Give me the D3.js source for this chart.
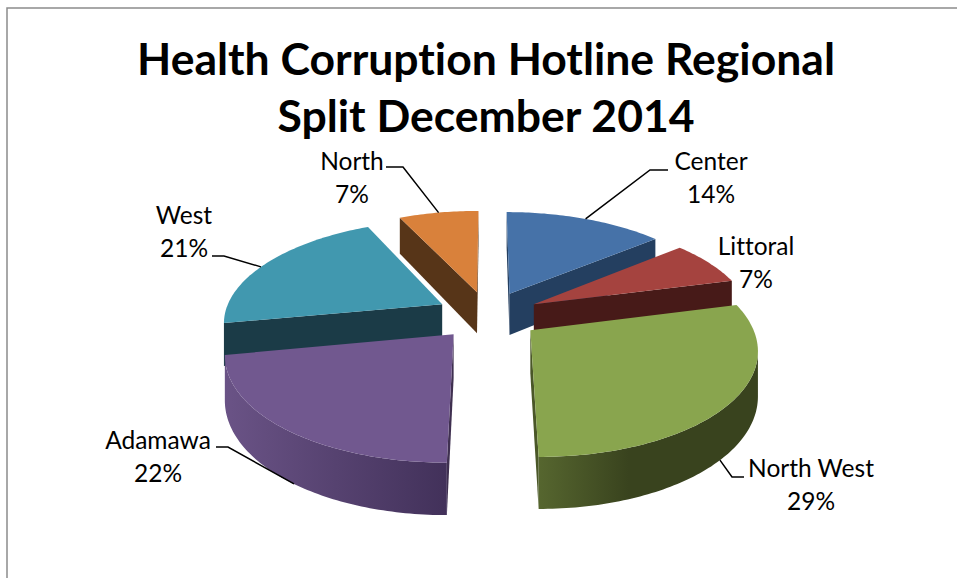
<!DOCTYPE html>
<html>
<head>
<meta charset="utf-8">
<script src="https://cdn.jsdelivr.net/npm/d3@7"></script>
<style>
    html, body { margin: 0; padding: 0; background: #fff; }
    svg { display: block; }
    text { font-family: Lato, "Open Sans", sans-serif; fill: #000; font-variant-ligatures: none; }
</style>
</head>
<body>
<div id="pie_dataviz"></div>
<script>
// chart data
const regions = ["Center", "Littoral", "North West", "Adamawa", "West", "North"];
const shares = [14, 7, 29, 22, 21, 7];
const titleLines = ["Health Corruption Hotline Regional", "Split December 2014"];

// slice colours
const topColors = ["#4672a8", "#a5433f", "#89a54e", "#71588f", "#4198af", "#d9813b"];
const sideColors = ["#243f60", "#471a18", "#4a5728", "#3f3050", "#1b3b47", "#573518"];
const wallStart = ["#243f60", "#471a18", "#56662f", "#6a5386", "#1b3b47", "#573518"];
const wallEnd = ["#243f60", "#471a18", "#39431e", "#42315a", "#1b3b47", "#573518"];

// label placement, same order as regions. elbow is where the leader line bends, null = no leader
// shift moves the leader's start along the rim, in degrees
const labelPos = [
    { x: 711, y: 170, elbow: [650, 170], end: [668, 170], shift: 0 },
    { x: 756, y: 255, elbow: null },
    { x: 811, y: 477, elbow: [732, 477], end: [744, 477], shift: 5 },
    { x: 158, y: 449, elbow: [228, 447], end: [216, 447], shift: -3 },
    { x: 184, y: 224, elbow: [224, 256], end: [212, 256], shift: -3 },
    { x: 352, y: 170, elbow: [403, 167], end: [386, 167], shift: 0 }
];

const width = 957, height = 578;

// projection of the tilted pie
const cx = 488, cy = 315;
const radiusX = 218, radiusY = 101;
const perspective = 0.16;
const explode = 0.24;
const depth = 42.5;

function project(d, angle, radius, down) {
    const mid = (d.startAngle + d.endAngle) / 2;
    const u = explode * Math.sin(mid) + radius * Math.sin(angle);
    const v = explode * Math.cos(mid) + radius * Math.cos(angle);
    const s = 1 / (1 + perspective * v);
    return [cx + radiusX * u * s, cy - radiusY * v * s + (down ? depth * s : 0)];
}

function arcAngles(d) {
    const n = Math.ceil((d.endAngle - d.startAngle) / (Math.PI / 180));
    return d3.range(n + 1).map(i => d.startAngle + (d.endAngle - d.startAngle) * i / n);
}

const svg = d3.select("#pie_dataviz")
    .append("svg")
    .attr("width", width)
    .attr("height", height);
const defs = svg.append("defs");
const line = d3.line();

// frame, the right and bottom side run off the picture
svg.append("path")
    .attr("d", line([[7, height], [7, 8], [width, 8]]))
    .attr("fill", "none")
    .attr("stroke", "#8c8c8c")
    .attr("stroke-width", 1.5);

// title
svg.selectAll(".graph-title")
    .data(titleLines)
    .join("text")
    .attr("class", "graph-title")
    .attr("x", 486)
    .attr("y", (d, i) => 74.5 + i * 57)
    .attr("text-anchor", "middle")
    .attr("font-size", 44.5)
    .attr("font-weight", 700)
    .text(d => d);

const pie = d3.pie().sort(null).value(d => d);
const slices = pie(shares).map((d, i) => ({ ...d, i }));

// back slices first so the front ones cover them
const drawOrder = [5, 0, 4, 1, 3, 2];
const pieGroup = svg.append("g");

drawOrder.forEach(i => {
    const d = slices[i];
    const g = pieGroup.append("g").attr("class", "slice");
    const angles = arcAngles(d);

    // radial walls, only the ones turned to the viewer
    [[d.startAngle, -1], [d.endAngle, 1]].forEach(([a, side]) => {
        const apex = project(d, a, 0, false);
        const rim = project(d, a, 1, false);
        if ((rim[0] - apex[0]) * side > 0) {
            g.append("path")
                .attr("d", line([apex, rim, project(d, a, 1, true), project(d, a, 0, true)]) + "Z")
                .attr("fill", sideColors[i]);
        }
    });

    // outer wall, the part of the rim where x runs backwards is the part facing us
    const front = angles.filter((a, k) => {
        const next = angles[Math.min(k + 1, angles.length - 1)];
        const prev = angles[Math.max(k - 1, 0)];
        return project(d, next, 1, false)[0] < project(d, prev, 1, false)[0];
    });
    if (front.length > 1) {
        const top = front.map(a => project(d, a, 1, false));
        const bottom = front.map(a => project(d, a, 1, true)).reverse();
        const xs = top.map(p => p[0]);
        const grad = defs.append("linearGradient")
            .attr("id", "wall" + i)
            .attr("gradientUnits", "userSpaceOnUse")
            .attr("x1", d3.min(xs)).attr("x2", i === 2 ? d3.min(xs) + 90 : d3.max(xs))
            .attr("y1", 0).attr("y2", 0);
        grad.append("stop").attr("offset", 0).attr("stop-color", wallStart[i]);
        grad.append("stop").attr("offset", 1).attr("stop-color", wallEnd[i]);
        g.append("path")
            .attr("d", line(top.concat(bottom)) + "Z")
            .attr("fill", `url(#wall${i})`);
    }

    // top face
    const rimPoints = angles.map(a => project(d, a, 1, false));
    g.append("path")
        .attr("d", line([project(d, 0, 0, false), ...rimPoints]) + "Z")
        .attr("fill", topColors[i]);
});

// leader lines start on the rim at the middle of the slice
slices.forEach(d => {
    const pos = labelPos[d.i];
    if (!pos.elbow) return;
    const mid = (d.startAngle + d.endAngle) / 2 + pos.shift * Math.PI / 180;
    const anchor = project(d, mid, 1, Math.cos(mid) < 0);
    svg.append("path")
        .attr("class", "leader")
        .attr("d", line([anchor, pos.elbow, pos.end]))
        .attr("fill", "none")
        .attr("stroke", "#000")
        .attr("stroke-width", 1.5);
});

// labels
slices.forEach(d => {
    const pos = labelPos[d.i];
    const label = svg.append("text")
        .attr("class", "slice-label")
        .attr("text-anchor", "middle")
        .attr("font-size", 24.5);
    label.append("tspan").attr("x", pos.x).attr("y", pos.y).text(regions[d.i]);
    label.append("tspan").attr("x", pos.x).attr("y", pos.y + 33).text(shares[d.i] + "%");
});
</script>
</body>
</html>
